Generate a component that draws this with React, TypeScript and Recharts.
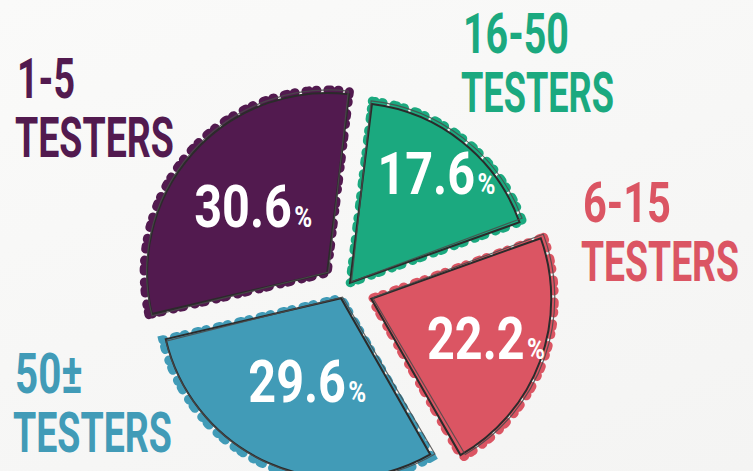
import { PieChart, Pie, Cell } from "recharts";

// slices in clockwise order from the top
const CATEGORIES = ["16-50", "6-15", "50±", "1-5"];
const SHARES = [17.6, 22.2, 29.6, 30.6];
const COLORS = ["#1ba97f", "#db5563", "#419bb7", "#521a4f"];

const W = 753;
const H = 471;
const CX = 345;
const CY = 289;
const R = 180;
const START = 83;
const EXPLODE = [8, 28, 10, 24];
const LABEL_R = [0.76, 0.66, 0.5, 0.55];
const FONT = "Roboto, 'DejaVu Sans Condensed', sans-serif";
const INK = "#2b2b2b";

// side captions: first line x / baseline / target widths of the two lines
const CAPTIONS: { k: number; x: number; y: number; w1: number; w2: number }[] = [
  { k: 3, x: 17, y: 98, w1: 58, w2: 159 },
  { k: 0, x: 463, y: 53, w1: 106, w2: 153 },
  { k: 1, x: 583, y: 222, w1: 88, w2: 158 },
  { k: 2, x: 15, y: 393, w1: 68, w2: 159 },
];

const data = CATEGORIES.map((name, i) => ({ name, value: SHARES[i] }));
const total = SHARES.reduce((a, b) => a + b, 0);
const RAD = Math.PI / 180;

let ctx: CanvasRenderingContext2D | null = null;
function textWidth(s: string, size: number) {
  if (!ctx) ctx = document.createElement("canvas").getContext("2d");
  if (!ctx) return s.length * size * 0.6;
  ctx.font = `700 ${size}px ${FONT}`;
  return ctx.measureText(s).width;
}

function centerFor(k: number) {
  const before = SHARES.slice(0, k).reduce((a, b) => a + b, 0);
  const mid = START - ((before + SHARES[k] / 2) / total) * 360;
  return {
    x: CX + EXPLODE[k] * Math.cos(mid * RAD),
    y: CY - EXPLODE[k] * Math.sin(mid * RAD),
  };
}

const pctLabel = (k: number) => (p: any) => {
  if (p.index !== k) return null;
  const r = p.outerRadius * LABEL_R[k];
  const x = p.cx + r * Math.cos(-p.midAngle * RAD);
  const y = p.cy + r * Math.sin(-p.midAngle * RAD);
  const num = SHARES[k].toFixed(1);
  const natural = textWidth(num, 60) + 3 + textWidth("%", 30);
  const sx = 118 / natural;
  return (
    <text
      transform={`translate(${x - 59},${y + 21}) scale(${sx},1)`}
      fill="#fff" fontWeight={700} fontFamily={FONT}
    >
      <tspan fontSize={60}>{num}</tspan>
      <tspan fontSize={30} dx={3}>%</tspan>
    </text>
  );
};

type Layer = "scribble" | "fill" | "outline" | "outline2";
const LAYERS: Layer[] = ["scribble", "fill", "outline", "outline2"];

function cellProps(layer: Layer, i: number, k: number) {
  if (i !== k) return { fill: "none", stroke: "none" };
  switch (layer) {
    case "scribble":
      return {
        fill: "none", stroke: COLORS[k], strokeWidth: 9,
        strokeDasharray: "3 7 1 11", strokeLinecap: "round" as const,
      };
    case "fill":
      return { fill: COLORS[k], stroke: "none" };
    case "outline":
      return { fill: "none", stroke: INK, strokeWidth: 2 };
    default:
      return { fill: "none", stroke: "#4a4a4a", strokeWidth: 1.2, strokeOpacity: 0.85 };
  }
}

export default function App() {
  return (
    <div
      style={{
        position: "absolute", left: 0, top: 0, width: W, height: H, overflow: "hidden",
        background: "linear-gradient(160deg, #fafaf9 0%, #f4f4f3 100%)",
      }}
    >
      <PieChart width={W} height={H} margin={{ top: 0, right: 0, bottom: 0, left: 0 }}>
        {SHARES.map((_, k) => {
          const c = centerFor(k);
          return LAYERS.map((layer) => (
            <Pie
              key={`${k}-${layer}`}
              data={data}
              dataKey="value"
              nameKey="name"
              cx={c.x + (layer === "outline2" ? 1.5 : 0)}
              cy={c.y + (layer === "outline2" ? -1 : 0)}
              outerRadius={layer === "scribble" ? R + 3 : layer === "outline2" ? R + 2 : R}
              startAngle={START + (layer === "outline2" ? 0.8 : 0)}
              endAngle={START - 360 + (layer === "outline2" ? 0.8 : 0)}
              isAnimationActive={false}
              labelLine={false}
              label={layer === "outline2" ? pctLabel(k) : false}
            >
              {data.map((d, i) => (
                <Cell key={d.name} {...cellProps(layer, i, k)} />
              ))}
            </Pie>
          ));
        })}
      </PieChart>
      <svg width={W} height={H} style={{ position: "absolute", left: 0, top: 0, pointerEvents: "none" }}>
        {CAPTIONS.map((c) => {
          const first = CATEGORIES[c.k];
          const s1 = c.w1 / textWidth(first, 56);
          const s2 = c.w2 / textWidth("TESTERS", 56);
          return (
            <g key={c.k} fill={COLORS[c.k]} fontFamily={FONT} fontWeight={700} fontSize={56}>
              <text transform={`translate(${c.x},${c.y}) scale(${s1},1)`}>{first}</text>
              <text transform={`translate(${c.x - 2},${c.y + 59}) scale(${s2},1)`}>TESTERS</text>
            </g>
          );
        })}
      </svg>
    </div>
  );
}
